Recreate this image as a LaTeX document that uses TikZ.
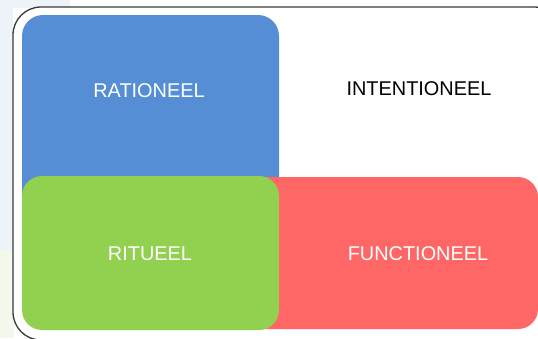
\documentclass[tikz,border=0pt]{standalone}
\usepackage{fontspec}
\setmainfont{Liberation Sans}
\definecolor{qblue}{HTML}{558ED5}
\definecolor{qgreen}{HTML}{92D050}
\definecolor{qred}{HTML}{FF6666}
\definecolor{bgblue}{HTML}{EEF2F9}
\definecolor{bggreen}{HTML}{F3F8EC}
\definecolor{frameline}{HTML}{3A3A3A}
\begin{document}
\begin{tikzpicture}[x=1bp,y=-1bp,
  lbl/.style={font=\fontsize{19.9bp}{23bp}\selectfont, inner sep=0pt, anchor=center},
  framebox/.style={draw=frameline, line width=1.3bp, fill=white, rounded corners=28bp}]
\useasboundingbox (0,0) rectangle (538,338);
\begin{scope}
\clip (0,0) rectangle (538,338);
\fill[white] (0,0) rectangle (538,338);
\fill[bgblue] (0,0) rectangle (13,250);
\fill[bgblue] (0,0) rectangle (70,8);
\fill[bggreen] (0,250) rectangle (14,338);
\draw[framebox] (13,7) rectangle (562,340);
\fill[qblue, rounded corners=21bp] (22,15) rectangle (279,230);
\fill[qred, rounded corners=20bp] (230,177) rectangle (538,329);
\fill[qgreen, rounded corners=20bp] (22,176) rectangle (279,330);
\end{scope}
\node[lbl, text=white] (rat) at (149,90.5) {RATIONEEL};
\node[lbl, text=black] (int) at (419,89) {INTENTIONEEL};
\node[lbl, text=white] (rit) at (150,254) {RITUEEL};
\node[lbl, text=white] (fun) at (418,254) {FUNCTIONEEL};
\end{tikzpicture}
\end{document}
